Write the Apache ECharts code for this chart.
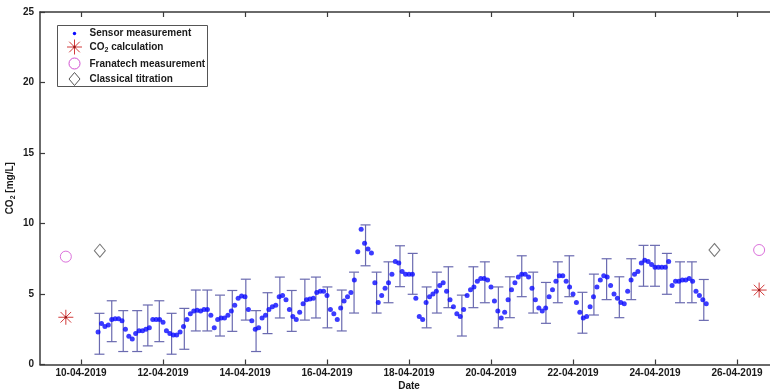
<!DOCTYPE html>
<html>
<head>
<meta charset="utf-8">
<script src="https://cdn.jsdelivr.net/npm/echarts@6/dist/echarts.min.js"></script>
<style>
  html, body { margin: 0; padding: 0; background: #ffffff; }
  #chart { width: 770px; height: 390px; }
</style>
</head>
<body>
<div id="chart"></div>
<script>
// x values are days of April 2019 (10.5 = 10 April, 12:00)

// Sensor readings, one every two hours from 10 April 10:00
const sensorStart = 10 + 10 / 24;
const sensorStepHours = 2;
const sensorValues = [
  2.3, 2.9, 2.7, 2.8, 3.2, 3.25, 3.25, 3.1, 2.5, 2.0, 1.8, 2.2,
  2.4, 2.4, 2.5, 2.6, 3.2, 3.2, 3.2, 3.0, 2.4, 2.2, 2.1, 2.1,
  2.3, 2.7, 3.2, 3.6, 3.8, 3.85, 3.8, 3.9, 3.9, 3.5, 2.6, 3.2,
  3.3, 3.3, 3.5, 3.8, 4.2, 4.7, 4.85, 4.8, 3.9, 3.1, 2.5, 2.6,
  3.3, 3.5, 3.9, 4.1, 4.2, 4.8, 4.9, 4.6, 3.9, 3.4, 3.2, 3.7,
  4.3, 4.6, 4.65, 4.7, 5.1, 5.2, 5.2, 4.9, 3.9, 3.6, 3.2, 4.0,
  4.5, 4.8, 5.1, 6.0, 8.0, 9.6, 8.6, 8.2, 7.9, 5.8, 4.4, 4.9,
  5.4, 5.8, 6.4, 7.3, 7.2, 6.6, 6.4, 6.4, 6.4, 4.7, 3.4, 3.2,
  4.4, 4.8, 5.0, 5.2, 5.6, 5.8, 5.2, 4.6, 4.1, 3.6, 3.4, 3.9,
  4.9, 5.3, 5.5, 5.9, 6.1, 6.1, 6.0, 5.5, 4.5, 3.8, 3.3, 3.7,
  4.6, 5.3, 5.8, 6.2, 6.4, 6.4, 6.2, 5.4, 4.6, 4.0, 3.8, 4.0,
  4.8, 5.3, 5.9, 6.3, 6.3, 5.9, 5.5, 5.0, 4.4, 3.7, 3.3, 3.4,
  4.1, 4.8, 5.5, 6.0, 6.3, 6.2, 5.6, 5.0, 4.7, 4.4, 4.3, 5.2,
  6.0, 6.4, 6.6, 7.2, 7.4, 7.3, 7.1, 6.9, 6.9, 6.9, 6.9, 7.3,
  5.6, 5.9, 5.9, 6.0, 6.0, 6.1, 5.9, 5.2, 4.9, 4.6, 4.3
];

// Uncertainty bars on the sensor signal
const errorTimes = [
  10.45, 10.75, 11.03, 11.37, 11.63, 11.91, 12.21, 12.52, 12.80, 13.08,
  13.39, 13.69, 14.02, 14.27, 14.55, 14.85, 15.14, 15.46, 15.73, 16.01,
  16.36, 16.66, 16.94, 17.21, 17.50, 17.78, 18.09, 18.43, 18.68, 18.96,
  19.29, 19.57, 19.85, 20.18, 20.46, 20.75, 21.03, 21.34, 21.63, 21.91,
  22.23, 22.51, 22.82, 23.13, 23.42, 23.72, 24.00, 24.29, 24.61, 24.90,
  25.19
];
const errorCentres = [
  2.18, 3.07, 2.37, 2.37, 2.77, 3.07, 2.18, 2.53, 3.83, 3.83,
  3.47, 3.80, 4.60, 2.37, 3.64, 4.75, 3.80, 4.60, 4.75, 4.05,
  3.83, 5.10, 8.45, 5.10, 5.83, 6.97, 6.43, 4.05, 5.10, 5.48,
  3.47, 5.48, 5.83, 4.05, 4.77, 6.26, 5.10, 4.37, 5.83, 6.26,
  3.67, 4.96, 6.05, 4.77, 6.05, 7.00, 7.00, 6.43, 5.83, 5.83,
  4.58
];
const errorHalfWidth = 1.45;

// Reference methods
const calcTimes = [9.63, 26.54];
const calcValues = [3.35, 5.28];
const franTimes = [9.63, 26.54];
const franValues = [7.65, 8.12];
const titrTimes = [10.46, 25.45];
const titrValues = [8.07, 8.12];

// Axis ticks
const dateTicks = [10, 12, 14, 16, 18, 20, 22, 24, 26];
const yMin = 0, yMax = 25, yStep = 5;

const FONT = '"Liberation Sans", Arial, sans-serif';
const AXIS_COLOR = '#3a3a3a';
const SENSOR_COLOR = '#0a0aff';
const BAR_COLOR = '#6a6ab0';
const CALC_COLOR = '#d23a3a';
const FRAN_COLOR = '#d24fd2';
const TITR_COLOR = '#555555';

const sensorData = sensorValues.map((v, i) => [sensorStart + i * sensorStepHours / 24, v]);
const errorData = errorTimes.map((t, i) => [t, errorCentres[i] - errorHalfWidth, errorCentres[i] + errorHalfWidth]);
const calcData = calcTimes.map((t, i) => [t, calcValues[i]]);
const franData = franTimes.map((t, i) => [t, franValues[i]]);
const titrData = titrTimes.map((t, i) => [t, titrValues[i]]);

function pad2(n) { return (n < 10 ? '0' : '') + n; }
function dateLabel(v) { return pad2(Math.round(v)) + '-04-2019'; }

// Eight-armed asterisk centred on (cx, cy)
function asteriskShapes(cx, cy, r, color) {
  const d = r * Math.SQRT1_2;
  const segs = [[-r, 0, r, 0], [0, -r, 0, r], [-d, -d, d, d], [-d, d, d, -d]];
  const out = segs.map(s => ({
    type: 'line',
    shape: { x1: cx + s[0], y1: cy + s[1], x2: cx + s[2], y2: cy + s[3] },
    style: { stroke: color, lineWidth: 1 }
  }));
  out.push({ type: 'circle', shape: { cx: cx, cy: cy, r: 1.3 }, style: { fill: '#9a1a1a' } });
  return out;
}

const chart = echarts.init(document.getElementById('chart'), null, { renderer: 'canvas' });

const tickCommon = { show: true, inside: true, length: 5, lineStyle: { color: AXIS_COLOR, width: 1.2 } };

const option = {
  animation: false,
  backgroundColor: '#ffffff',
  grid: { left: 40, top: 12, right: -8, bottom: 25.5, containLabel: false, outerBoundsMode: 'none' },
  xAxis: [
    {
      type: 'value', min: 9, max: 27, position: 'bottom',
      name: 'Date', nameLocation: 'middle', nameGap: 17, nameMoveOverlap: false,
      nameTextStyle: { fontFamily: FONT, fontSize: 10, fontWeight: 'bold', color: '#1a1a1a' },
      axisLine: { show: true, onZero: false, lineStyle: { color: AXIS_COLOR, width: 1.5 } },
      axisTick: Object.assign({}, tickCommon, { customValues: dateTicks }),
      axisLabel: {
        customValues: dateTicks, formatter: dateLabel, margin: 4,
        fontFamily: FONT, fontSize: 10, fontWeight: 'bold', color: '#1a1a1a'
      },
      splitLine: { show: false }
    },
    {
      type: 'value', min: 9, max: 27, position: 'top',
      axisLine: { show: true, onZero: false, lineStyle: { color: AXIS_COLOR, width: 1.5 } },
      axisTick: Object.assign({}, tickCommon, { customValues: dateTicks }),
      axisLabel: { show: false },
      splitLine: { show: false }
    }
  ],
  yAxis: {
    type: 'value', min: yMin, max: yMax, interval: yStep,
    name: '{a|CO}{s|2}{a| [mg/L]}', nameLocation: 'middle', nameGap: 23, nameRotate: 90, nameMoveOverlap: false,
    nameTextStyle: {
      rich: {
        a: { fontFamily: FONT, fontSize: 10, fontWeight: 'bold', color: '#1a1a1a', lineHeight: 14 },
        s: { fontFamily: FONT, fontSize: 7, fontWeight: 'bold', color: '#1a1a1a', lineHeight: 14, padding: [6, 0, 0, 0] }
      }
    },
    axisLine: { show: true, onZero: false, lineStyle: { color: AXIS_COLOR, width: 1.5 } },
    axisTick: tickCommon,
    axisLabel: { margin: 6, fontFamily: FONT, fontSize: 10, fontWeight: 'bold', color: '#1a1a1a' },
    splitLine: { show: false }
  },
  series: [
    {
      name: 'Error bars', type: 'custom', data: errorData, z: 2,
      encode: { x: 0, y: [1, 2] },
      renderItem: function (params, api) {
        const t = api.value(0);
        const lo = api.coord([t, api.value(1)]);
        const hi = api.coord([t, api.value(2)]);
        const c = 5;
        const st = { stroke: BAR_COLOR, lineWidth: 1.2 };
        return {
          type: 'group',
          children: [
            { type: 'line', shape: { x1: lo[0], y1: lo[1], x2: hi[0], y2: hi[1] }, style: st },
            { type: 'line', shape: { x1: lo[0] - c, y1: lo[1], x2: lo[0] + c, y2: lo[1] }, style: st },
            { type: 'line', shape: { x1: hi[0] - c, y1: hi[1], x2: hi[0] + c, y2: hi[1] }, style: st }
          ]
        };
      }
    },
    {
      name: 'Sensor measurement', type: 'scatter', data: sensorData, z: 3,
      symbol: 'circle', symbolSize: 5,
      itemStyle: { color: SENSOR_COLOR }
    },
    {
      name: 'CO2 calculation', type: 'custom', data: calcData, z: 4,
      encode: { x: 0, y: 1 },
      renderItem: function (params, api) {
        const p = api.coord([api.value(0), api.value(1)]);
        return { type: 'group', children: asteriskShapes(p[0], p[1], 7.5, CALC_COLOR) };
      }
    },
    {
      name: 'Franatech measurement', type: 'scatter', data: franData, z: 4,
      symbol: 'circle', symbolSize: 11,
      itemStyle: { color: 'rgba(0,0,0,0)', borderColor: FRAN_COLOR, borderWidth: 1 }
    },
    {
      name: 'Classical titration', type: 'scatter', data: titrData, z: 4,
      symbol: 'diamond', symbolSize: [11, 13],
      itemStyle: { color: 'rgba(0,0,0,0)', borderColor: TITR_COLOR, borderWidth: 1 }
    }
  ],
  graphic: [
    {
      type: 'group', left: 57, top: 25, z: 100,
      children: [
        { type: 'rect', shape: { x: 0, y: 0, width: 150, height: 61 }, style: { fill: '#ffffff', stroke: '#555555', lineWidth: 1 } },
        { type: 'circle', shape: { cx: 17, cy: 8, r: 1.7 }, style: { fill: SENSOR_COLOR } },
        { type: 'text', x: 32, y: 8, style: { text: 'Sensor measurement', fontFamily: FONT, fontSize: 10, fontWeight: 'bold', fill: '#1a1a1a', verticalAlign: 'middle' } },
        { type: 'group', children: asteriskShapes(17, 21.5, 7.5, CALC_COLOR) },
        {
          type: 'text', x: 32, y: 21.5,
          style: {
            text: '{a|CO}{s|2}{a| calculation}', verticalAlign: 'middle',
            rich: {
              a: { fontFamily: FONT, fontSize: 10, fontWeight: 'bold', fill: '#1a1a1a', lineHeight: 14 },
              s: { fontFamily: FONT, fontSize: 7, fontWeight: 'bold', fill: '#1a1a1a', lineHeight: 14, padding: [6, 0, 0, 0] }
            }
          }
        },
        { type: 'circle', shape: { cx: 17, cy: 38, r: 5.5 }, style: { fill: 'none', stroke: FRAN_COLOR, lineWidth: 1 } },
        { type: 'text', x: 32, y: 38.5, style: { text: 'Franatech measurement', fontFamily: FONT, fontSize: 10, fontWeight: 'bold', fill: '#1a1a1a', verticalAlign: 'middle' } },
        { type: 'polygon', shape: { points: [[17, 47], [22.5, 53.5], [17, 60], [11.5, 53.5]] }, style: { fill: 'none', stroke: TITR_COLOR, lineWidth: 1 } },
        { type: 'text', x: 32, y: 53.5, style: { text: 'Classical titration', fontFamily: FONT, fontSize: 10, fontWeight: 'bold', fill: '#1a1a1a', verticalAlign: 'middle' } }
      ]
    }
  ]
};

chart.setOption(option);
</script>
</body>
</html>
